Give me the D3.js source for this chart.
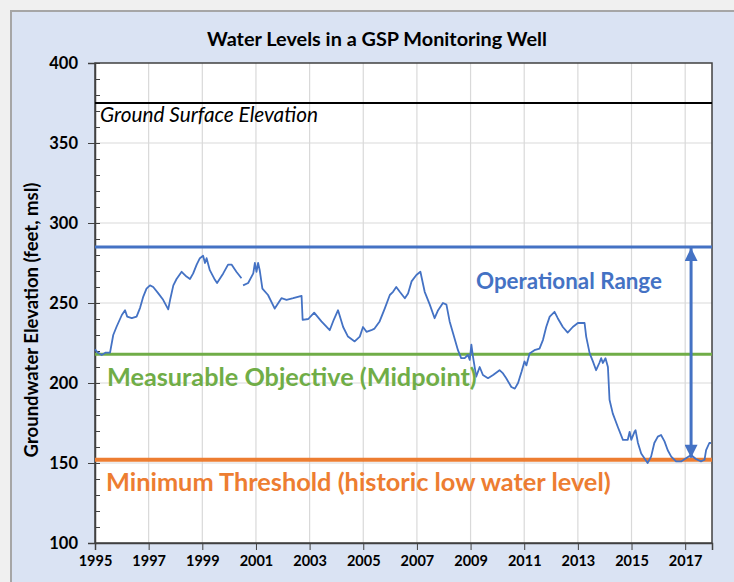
<!DOCTYPE html>
<html lang="en">
<head>
    <meta charset="UTF-8">
    <title>Water Levels in a GSP Monitoring Well</title>
    <script src="https://cdn.jsdelivr.net/npm/d3@7"></script>
    <style>
        body {
            margin: 0;
            background-color: #f0f0f0;
            font-family: Lato, "Open Sans", sans-serif;
        }
        svg { display: block; }
        .axis text { font-family: Lato, sans-serif; font-weight: bold; fill: #000; }
        .axis path, .axis line { stroke: #404040; }
    </style>
</head>
<body>
    <svg id="chart" width="734" height="582"></svg>

    <script>
        // monitoring well record (decimal year, feet msl), null = data gap
        const years = [
            1995.00, 1995.10, 1995.25, 1995.40, 1995.56, 1995.68, 1995.80, 1996.00, 1996.12, 1996.20,
            1996.37, 1996.55, 1996.68, 1996.80, 1996.92, 1997.05, 1997.17, 1997.36, 1997.54, 1997.73,
            1997.80, 1997.92, 1998.04, 1998.23, 1998.41, 1998.54, 1998.66, 1998.79, 1998.91, 1999.03,
            1999.10, 1999.16, 1999.28, 1999.47, 1999.55, 1999.78, 1999.96, 2000.09, 2000.27, 2000.46,
            2000.49, 2000.52, 2000.71, 2000.90, 2000.96, 2001.02, 2001.08, 2001.14, 2001.24, 2001.45,
            2001.70, 2001.95, 2002.14, 2002.39, 2002.70, 2002.74, 2002.95, 2003.17, 2003.44, 2003.75,
            2003.90, 2004.06, 2004.25, 2004.43, 2004.68, 2004.87, 2004.99, 2005.12, 2005.30, 2005.42,
            2005.61, 2005.80, 2005.99, 2006.11, 2006.23, 2006.36, 2006.55, 2006.67, 2006.80, 2006.98,
            2007.13, 2007.29, 2007.48, 2007.66, 2007.79, 2007.97, 2008.10, 2008.22, 2008.35, 2008.53,
            2008.65, 2008.78, 2008.90, 2008.97, 2009.03, 2009.09, 2009.21, 2009.34, 2009.46, 2009.65,
            2009.84, 2010.08, 2010.21, 2010.33, 2010.52, 2010.65, 2010.77, 2010.90, 2011.01, 2011.08,
            2011.20, 2011.38, 2011.57, 2011.70, 2011.82, 2011.95, 2012.13, 2012.25, 2012.44, 2012.62,
            2012.81, 2013.00, 2013.12, 2013.25, 2013.31, 2013.44, 2013.56, 2013.68, 2013.80, 2013.87,
            2013.93, 2014.03, 2014.12, 2014.18, 2014.30, 2014.49, 2014.68, 2014.86, 2014.93, 2014.99,
            2015.11, 2015.15, 2015.24, 2015.36, 2015.48, 2015.60, 2015.73, 2015.85, 2015.98, 2016.10,
            2016.23, 2016.35, 2016.48, 2016.66, 2016.85, 2017.03, 2017.22, 2017.40, 2017.59, 2017.72,
            2017.78, 2017.90, 2017.96
        ];
        const levels = [
            221, 219, 217.5, 219, 219, 230, 235, 242.5, 245.5, 241.5,
            240.5, 241.5, 247, 254, 259, 261, 260, 256, 252, 246,
            252, 261, 265, 269.5, 266.5, 265, 268.5, 274, 278, 279.5,
            275, 278, 270.5, 264.5, 262.5, 268.5, 274, 274, 269.5, 265.5,
            null, 261, 262.5, 268.5, 275, 269.5, 275, 270.5, 259, 255,
            246.5, 253, 252, 253, 254.5, 239.5, 240, 244, 238.5, 233,
            239.5, 245.5, 235, 229, 226, 229, 235, 232, 233, 234,
            238.5, 246.5, 255, 257, 260, 257, 253, 256, 263.5, 267.5,
            269.5, 257, 249, 240.5, 245.5, 250, 249, 238.5, 231, 220.5,
            215.5, 215.5, 217.5, 214.5, 224, 216.5, 204, 210, 205, 203,
            205, 208, 206, 203, 197.5, 196.5, 200, 207, 213.5, 211,
            218.5, 220.5, 221.5, 227, 235, 241.5, 244.5, 240.5, 235, 231.5,
            235, 237.5, 237.5, 237.5, 229, 218.5, 213.5, 208, 212.5, 215.5,
            212.5, 215.5, 210, 189.5, 181, 172.5, 164.5, 164.5, 169.5, 164.5,
            169.5, 170.5, 162.5, 156, 153, 150, 154, 162.5, 166.5, 167.5,
            163.5, 158, 154, 151, 151, 153, 155, 152.5, 151, 152,
            158, 162.5, 162.5
        ];

        // reference levels (feet msl)
        const groundSurface = 375;
        const operationalTop = 285;
        const measurableObjective = 218;
        const minimumThreshold = 152;
        const arrowYear = 2017.22;

        const xTicks = d3.range(1995, 2018, 2);
        const yTicks = d3.range(100, 401, 50);
        const yMinorTicks = d3.range(100, 401, 10);

        const svg = d3.select("#chart");

        // outer frame
        svg.append("rect")
            .attr("x", 11).attr("y", 11)
            .attr("width", 730).attr("height", 580)
            .attr("fill", "#dae3f3")
            .attr("stroke", "#a6a6a6")
            .attr("stroke-width", 2);

        const plot = { left: 95, right: 712, top: 63, bottom: 543 };

        const x = d3.scaleLinear().domain([1995, 2018]).range([plot.left, plot.right]);
        const y = d3.scaleLinear().domain([100, 400]).range([plot.bottom, plot.top]);

        svg.append("rect")
            .attr("x", plot.left).attr("y", plot.top)
            .attr("width", plot.right - plot.left)
            .attr("height", plot.bottom - plot.top)
            .attr("fill", "#fff");

        // gridlines
        svg.append("g")
            .selectAll("line")
            .data(xTicks.slice(1))
            .join("line")
            .attr("x1", d => x(d)).attr("x2", d => x(d))
            .attr("y1", plot.top).attr("y2", plot.bottom)
            .attr("stroke", "#d9d9d9").attr("stroke-width", 1.2);

        svg.append("g")
            .selectAll("line")
            .data(yTicks.slice(1, -1))
            .join("line")
            .attr("x1", plot.left).attr("x2", plot.right)
            .attr("y1", d => y(d)).attr("y2", d => y(d))
            .attr("stroke", "#d9d9d9").attr("stroke-width", 1.2);

        // plot border
        svg.append("rect")
            .attr("x", plot.left).attr("y", plot.top)
            .attr("width", plot.right - plot.left)
            .attr("height", plot.bottom - plot.top)
            .attr("fill", "none")
            .attr("stroke", "#404040")
            .attr("stroke-width", 1.5);

        // axes
        svg.append("g")
            .attr("class", "axis")
            .attr("transform", `translate(${plot.left},0)`)
            .call(d3.axisLeft(y).tickValues(yMinorTicks).tickSize(0).tickFormat(""))
            .call(g => g.select(".domain").remove())
            .call(g => g.selectAll(".tick line").attr("x1", 0).attr("x2", 5));

        svg.append("g")
            .attr("class", "axis")
            .attr("transform", `translate(${plot.left},0)`)
            .call(d3.axisLeft(y).tickValues(yTicks).tickSize(7).tickPadding(10).tickFormat(d3.format("d")))
            .call(g => g.select(".domain").attr("stroke-width", 1.5))
            .call(g => g.selectAll(".tick line").attr("x1", 5))
            .call(g => g.selectAll(".tick text").style("font-size", "16.5px"));

        svg.append("g")
            .attr("class", "axis")
            .attr("transform", `translate(0,${plot.bottom})`)
            .call(d3.axisBottom(x).tickValues(xTicks).tickSize(7).tickPadding(6).tickFormat(d3.format("d")))
            .call(g => g.select(".domain").attr("stroke-width", 1.5))
            .call(g => g.selectAll(".tick text").style("font-size", "14.5px"));

        // reference lines
        function refLine(value, color, width) {
            svg.append("line")
                .attr("x1", plot.left).attr("x2", plot.right)
                .attr("y1", y(value)).attr("y2", y(value))
                .attr("stroke", color)
                .attr("stroke-width", width);
        }
        refLine(groundSurface, "#000", 2);
        refLine(operationalTop, "#4472c4", 3);
        refLine(measurableObjective, "#70ad47", 3);
        refLine(minimumThreshold, "#ed7d31", 4);

        // water level series
        const points = years.map((yr, i) => [yr, levels[i]]);
        const line = d3.line()
            .defined(d => d[1] !== null)
            .x(d => x(d[0]))
            .y(d => y(d[1]));

        svg.append("path")
            .datum(points)
            .attr("d", line)
            .attr("fill", "none")
            .attr("stroke", "#4472c4")
            .attr("stroke-width", 1.8)
            .attr("stroke-linejoin", "round");

        // operational range double arrow
        const defs = svg.append("defs");
        ["start", "end"].forEach(id => {
            defs.append("marker")
                .attr("id", "arrow-" + id)
                .attr("viewBox", "0 0 10 10")
                .attr("refX", 10).attr("refY", 5)
                .attr("markerUnits", "userSpaceOnUse")
                .attr("markerWidth", 14).attr("markerHeight", 13)
                .attr("orient", id === "start" ? "auto-start-reverse" : "auto")
                .append("path")
                .attr("d", "M0,0 L10,5 L0,10 Z")
                .attr("fill", "#4472c4");
        });
        svg.append("line")
            .attr("x1", x(arrowYear)).attr("x2", x(arrowYear))
            .attr("y1", y(operationalTop) + 1).attr("y2", y(minimumThreshold) - 2)
            .attr("stroke", "#4472c4")
            .attr("stroke-width", 3)
            .attr("marker-start", "url(#arrow-start)")
            .attr("marker-end", "url(#arrow-end)");

        // text helpers
        function fitText(sel, width) {
            const w = sel.node().getComputedTextLength();
            const fs = parseFloat(sel.style("font-size"));
            sel.style("font-size", (fs * width / w) + "px");
            return sel;
        }

        function addLabel(txt, xPos, yPos, width, color, opts = {}) {
            const t = svg.append("text")
                .attr("x", xPos).attr("y", yPos)
                .attr("fill", color)
                .attr("text-anchor", opts.anchor || "start")
                .style("font-family", "Lato, sans-serif")
                .style("font-weight", opts.weight || "bold")
                .style("font-style", opts.style || "normal")
                .style("font-size", "16px")
                .text(txt);
            if (opts.rotate) t.attr("transform", `rotate(-90,${xPos},${yPos})`);
            return fitText(t, width);
        }

        addLabel("Water Levels in a GSP Monitoring Well", 377, 46, 340, "#000", { anchor: "middle" });
        addLabel("Ground Surface Elevation", 100, 122, 218, "#000", { weight: "normal", style: "italic" });
        addLabel("Operational Range", 476, 289, 186, "#4472c4");
        addLabel("Measurable Objective (Midpoint)", 107, 386, 370, "#70ad47");
        addLabel("Minimum Threshold (historic low water level)", 106, 491, 505, "#ed7d31");
        addLabel("Groundwater Elevation (feet, msl)", 38, 320, 275, "#000", { anchor: "middle", rotate: true });
    </script>
</body>
</html>
